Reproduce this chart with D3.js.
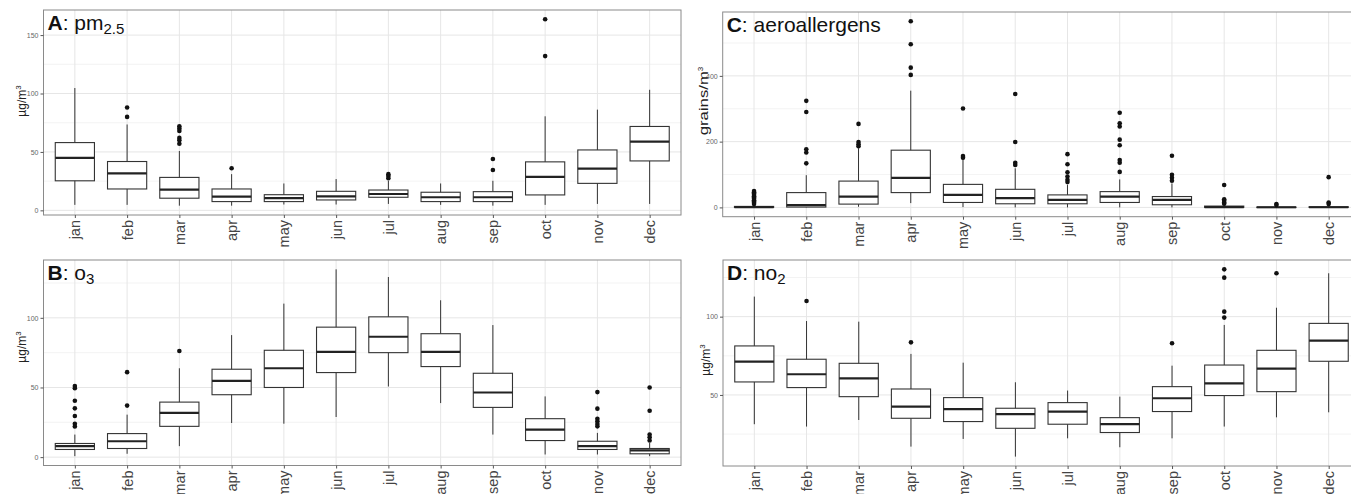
<!DOCTYPE html>
<html>
<head>
<meta charset="utf-8">
<script src="https://cdn.jsdelivr.net/npm/d3@7/dist/d3.min.js"></script>
<style>
  body { margin: 0; background: #fff; }
  svg text { font-family: "Liberation Sans", Arial, sans-serif; }
</style>
</head>
<body>
<svg id="chart" width="1351" height="494"></svg>
<script>

// months on the x axis of every panel
var months = ["jan", "feb", "mar", "apr", "may", "jun", "jul", "aug", "sep", "oct", "nov", "dec"];

// A: pm2.5 box stats
var pm25Lower  = [4.7, 4.7, 4, 4, 5, 5, 5.5, 4.7, 4, 4.7, 5.5, 5.5];
var pm25Q1     = [25.3, 18.3, 10.4, 7.5, 7.5, 8.9, 11.2, 7.5, 7.5, 13.2, 23.1, 42.3];
var pm25Median = [44.9, 31.6, 17.7, 11.7, 10.4, 12, 14, 11.2, 11.2, 28.7, 35.8, 58.8];
var pm25Q3     = [58, 41.8, 28.2, 18.3, 13.4, 16.3, 17.4, 15.5, 16, 41.5, 51.7, 71.8];
var pm25Upper  = [104.7, 73.5, 50.8, 31, 23, 26.8, 25.3, 23, 25.3, 80.5, 86.2, 103.2];
var pm25Outliers = [[], [88, 80], [72, 70, 68, 62, 60, 57], [36], [], [], [31, 29.5, 27.5], [], [44, 34.5], [163.5, 132], [], []];
var pm25Ticks = [0, 50, 100, 150];
var pm25Minor = [25, 75, 125];

// B: o3
var o3Lower  = [0.7, 2.4, 7.9, 24.5, 24, 28.8, 50.7, 38.8, 16.2, 1.9, 1.9, 0.7];
var o3Q1     = [5.5, 6.2, 22.1, 44.8, 50, 60.7, 75, 65, 35.7, 11.9, 5.5, 2.4];
var o3Median = [7.9, 11.4, 31.7, 54.8, 63.8, 75.5, 86.4, 75.5, 46.4, 19.8, 7.9, 4.8];
var o3Q3     = [9.8, 16.9, 39.5, 63.1, 76.7, 93.3, 100.7, 88.6, 60.2, 27.6, 11.4, 6.2];
var o3Upper  = [16.2, 30.5, 63.8, 87.6, 110.2, 134.8, 129.3, 112.6, 94.8, 43.6, 17.4, 10.2];
var o3Outliers = [[51, 49.5, 40.5, 35, 29.5, 24, 22], [61, 37], [76.2], [], [], [], [], [], [], [], [46.7, 34.8, 27.6, 25.7, 23.8, 22.1], [50, 33.3, 16.2, 14.3, 11.9]];
var o3Ticks = [0, 50, 100];
var o3Minor = [25, 75, 125];

// C: aeroallergens
var aeroLower  = [0, 0, 2, 13, 1, 0, 0, 0, 0, 0, 0, 0];
var aeroQ1     = [0, 1, 10, 45, 15, 11, 11, 15, 8, 0, 0, 0];
var aeroMedian = [1, 7, 33, 90, 38, 28, 23, 33, 23, 1, 0.5, 0.5];
var aeroQ3     = [3, 45, 80, 174, 70, 55, 38, 48, 33, 4, 1, 2];
var aeroUpper  = [8, 98, 180, 355, 148, 119, 68, 85, 73, 9, 2, 4];
var aeroOutliers = [[50, 46, 42, 38, 34, 30, 26, 22, 18, 14, 10], [324, 290, 177, 167, 134], [254, 199, 192, 186], [566, 496, 425, 403], [301, 156, 151], [345, 199, 136, 129], [162, 131, 107, 94, 84, 77], [288, 256, 246, 206, 189, 144, 136, 108], [157, 99, 90, 81], [68, 25, 20, 15, 11], [10, 7], [92, 15, 10]];
var aeroTicks = [0, 200, 400];
var aeroMinor = [100, 300, 500];

// D: no2
var no2Lower  = [31.3, 29.8, 34, 17, 21.9, 10.6, 22.3, 16.6, 22.3, 29.8, 35.7, 38.9];
var no2Q1     = [58.3, 54.7, 48.9, 35.1, 33, 28.7, 31.3, 26, 39.4, 49.6, 52.1, 71.5];
var no2Median = [71.3, 63.2, 60.6, 42.6, 40.9, 37.7, 39.4, 31.3, 47.9, 57.4, 66.8, 84.7];
var no2Q3     = [81.3, 72.8, 70.2, 53.8, 48.3, 41.5, 45.1, 35.5, 55.3, 69.1, 78.5, 95.7];
var no2Upper  = [112.8, 97.2, 96.8, 76.2, 70.6, 58.1, 52.8, 48.9, 68.7, 94.7, 105.7, 127.7];
var no2Outliers = [[], [110], [], [83.6], [], [], [], [], [83], [130.2, 124.9, 103.2, 99.4], [127.7], []];
var no2Ticks = [50, 100];
var no2Minor = [25, 75, 125];

var svg = d3.select("#chart");

function drawPanel(p) {

	var x = d3.scalePoint().domain(months).range([p.left, p.right]).padding(0.6);

	// ggplot style 5% expansion of the data range
	var all = p.lower.concat(p.upper, d3.merge(p.outliers)),
		lo = d3.min(all), hi = d3.max(all),
		pad = (hi - lo) * 0.05;
	var y = d3.scaleLinear().domain([lo - pad, hi + pad]).range([p.bottom, p.top]);

	var g = svg.append("g");

	// background grid
	var grid = g.append("g");

	grid.selectAll(".minor")
		.data(p.minor.filter(function(v) { return y(v) > p.top && y(v) < p.bottom; }))
	  .enter().append("line")
		.attr("x1", p.left).attr("x2", p.right)
		.attr("y1", function(v) { return y(v); })
		.attr("y2", function(v) { return y(v); })
		.attr("stroke", "#f0f0f0")
		.attr("stroke-width", 0.8);

	grid.selectAll(".major")
		.data(p.ticks)
	  .enter().append("line")
		.attr("x1", p.left).attr("x2", p.right)
		.attr("y1", function(v) { return y(v); })
		.attr("y2", function(v) { return y(v); })
		.attr("stroke", "#e6e6e6")
		.attr("stroke-width", 1);

	grid.selectAll(".vmajor")
		.data(months)
	  .enter().append("line")
		.attr("x1", function(m) { return x(m); })
		.attr("x2", function(m) { return x(m); })
		.attr("y1", p.top).attr("y2", p.bottom)
		.attr("stroke", "#e6e6e6")
		.attr("stroke-width", 1);

	// boxes
	var bw = x.step() * 0.75;
	var box = g.selectAll(".box")
		.data(months)
	  .enter().append("g");

	box.append("line")
		.attr("x1", function(m) { return x(m); })
		.attr("x2", function(m) { return x(m); })
		.attr("y1", function(m, i) { return y(p.upper[i]); })
		.attr("y2", function(m, i) { return y(p.lower[i]); })
		.attr("stroke", "#333")
		.attr("stroke-width", 1);

	box.append("rect")
		.attr("x", function(m) { return x(m) - bw / 2; })
		.attr("width", bw)
		.attr("y", function(m, i) { return y(p.q3[i]); })
		.attr("height", function(m, i) { return Math.max(0.5, y(p.q1[i]) - y(p.q3[i])); })
		.attr("fill", "#fff")
		.attr("stroke", "#333")
		.attr("stroke-width", 1.1);

	box.append("line")
		.attr("x1", function(m) { return x(m) - bw / 2; })
		.attr("x2", function(m) { return x(m) + bw / 2; })
		.attr("y1", function(m, i) { return y(p.median[i]); })
		.attr("y2", function(m, i) { return y(p.median[i]); })
		.attr("stroke", "#222")
		.attr("stroke-width", 2.2);

	box.selectAll("circle")
		.data(function(m, i) { return p.outliers[i].map(function(v) { return {m: m, v: v}; }); })
	  .enter().append("circle")
		.attr("cx", function(d) { return x(d.m); })
		.attr("cy", function(d) { return y(d.v); })
		.attr("r", 2.3)
		.attr("fill", "#111");

	// panel border
	g.append("rect")
		.attr("x", p.left).attr("y", p.top)
		.attr("width", p.right - p.left)
		.attr("height", p.bottom - p.top)
		.attr("fill", "none")
		.attr("stroke", "#8a8a8a")
		.attr("stroke-width", 1);

	// y axis
	var yAxis = g.append("g")
		.attr("transform", "translate(" + p.left + ",0)")
		.call(d3.axisLeft(y).tickValues(p.ticks).tickSize(3).tickPadding(2));
	yAxis.select(".domain").remove();
	yAxis.selectAll("line").attr("stroke", "#555");
	yAxis.selectAll("text")
		.attr("fill", "#666")
		.style("font-size", "7px");

	// x axis
	var xAxis = g.append("g")
		.attr("transform", "translate(0," + p.bottom + ")")
		.call(d3.axisBottom(x).tickSize(3).tickPadding(2));
	xAxis.select(".domain").remove();
	xAxis.selectAll("line").attr("stroke", "#555");
	xAxis.selectAll("text")
		.attr("fill", "#444")
		.style("font-size", "14.5px")
		.attr("text-anchor", "end")
		.attr("dy", null)
		.attr("y", 0)
		.attr("x", 0)
		.attr("dominant-baseline", "central")
		.attr("transform", "translate(0,5) rotate(-90)");

	// y axis title (sits a bit above the panel middle, as in the source)
	var yt = g.append("text")
		.attr("transform", "translate(" + (p.left - p.yTitleOff) + "," + p.yTitleY + ") rotate(-90)")
		.attr("text-anchor", "middle")
		.attr("dominant-baseline", "central")
		.attr("fill", "#222")
		.style("font-size", "12px");
	var ytMain = yt.append("tspan").text(p.yTitle);
	if (p.yTitleLen) {
		ytMain.attr("textLength", p.yTitleLen).attr("lengthAdjust", "spacingAndGlyphs");
	}
	yt.append("tspan").attr("dy", "-0.45em").style("font-size", "8px").text("3");

	// panel title
	var t = g.append("text")
		.attr("x", p.left + 4)
		.attr("y", p.top + 19.5)
		.attr("fill", "#111")
		.style("font-size", "21px");
	t.append("tspan").style("font-weight", "bold").text(p.letter);
	t.append("tspan").text(": " + p.name);
	if (p.sub) {
		t.append("tspan").attr("dy", "0.3em").style("font-size", "15px").text(p.sub);
	}
}

drawPanel({letter: "A", name: "pm", sub: "2.5", yTitle: "\u00b5g/m", yTitleOff: 21.5, yTitleY: 101,
	left: 43.5, right: 681, top: 10, bottom: 215,
	lower: pm25Lower, q1: pm25Q1, median: pm25Median, q3: pm25Q3, upper: pm25Upper,
	outliers: pm25Outliers, ticks: pm25Ticks, minor: pm25Minor});

drawPanel({letter: "B", name: "o", sub: "3", yTitle: "\u00b5g/m", yTitleOff: 21.5, yTitleY: 347,
	left: 43.5, right: 681, top: 260, bottom: 465.5,
	lower: o3Lower, q1: o3Q1, median: o3Median, q3: o3Q3, upper: o3Upper,
	outliers: o3Outliers, ticks: o3Ticks, minor: o3Minor});

drawPanel({letter: "C", name: "aeroallergens", sub: null, yTitle: "grains/m", yTitleOff: 19, yTitleY: 101, yTitleLen: 64,
	left: 722.7, right: 1360, top: 12, bottom: 216.7,
	lower: aeroLower, q1: aeroQ1, median: aeroMedian, q3: aeroQ3, upper: aeroUpper,
	outliers: aeroOutliers, ticks: aeroTicks, minor: aeroMinor});

drawPanel({letter: "D", name: "no", sub: "2", yTitle: "\u00b5g/m", yTitleOff: 17, yTitleY: 360,
	left: 723, right: 1360, top: 260, bottom: 466,
	lower: no2Lower, q1: no2Q1, median: no2Median, q3: no2Q3, upper: no2Upper,
	outliers: no2Outliers, ticks: no2Ticks, minor: no2Minor});

</script>
</body>
</html>
